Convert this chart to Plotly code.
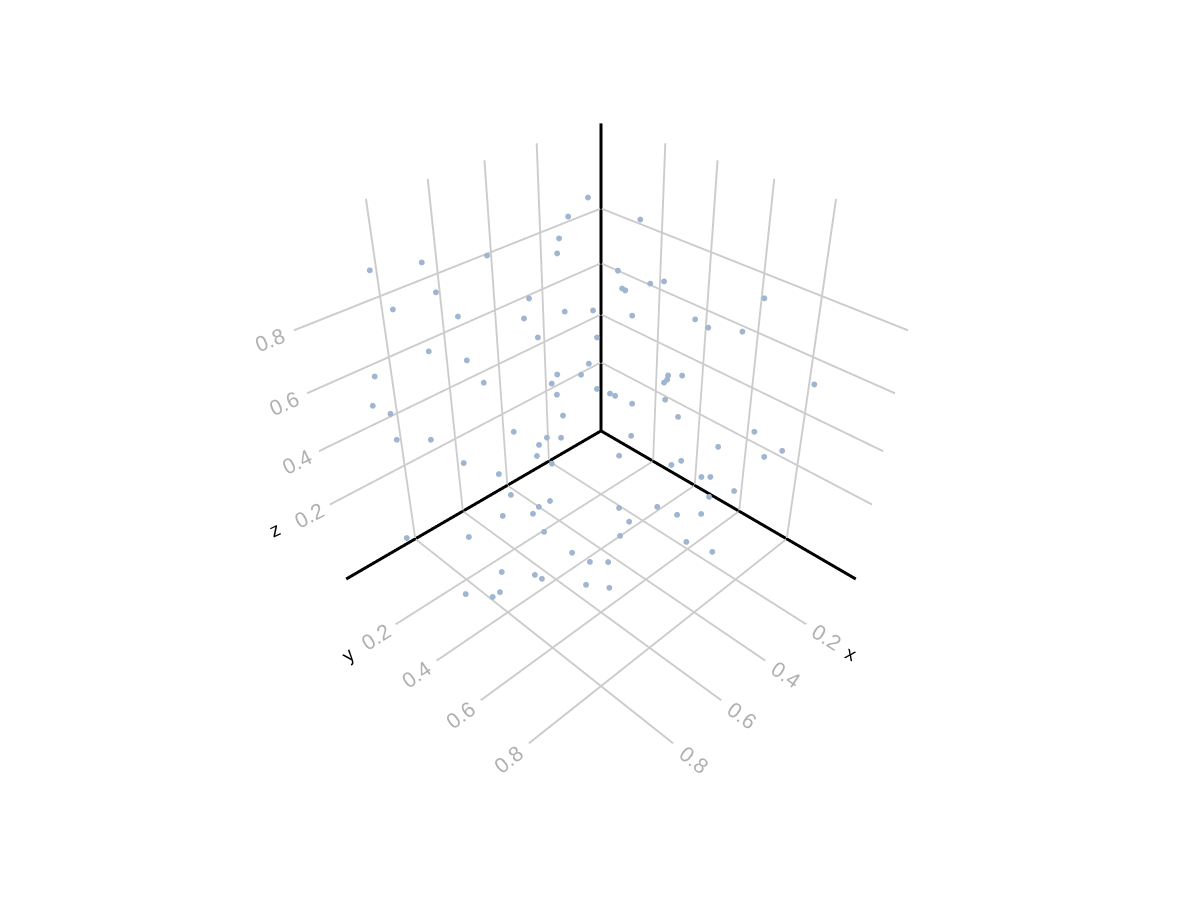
import plotly.graph_objects as go

x_vals = [0.159,0.267,0.133,0.344,0.381,0.585,0.768,0.908,0.264,0.261,0.246,0.294,0.295,0.786,0.547,0.196,0.904,0.464,0.375,0.770,0.333,0.595,0.290,0.294,0.274,0.585,0.405,0.854,0.788,0.469,0.509,0.582,0.398,
          0.382,0.405,0.410,0.948,0.760,0.610,0.120,0.477,0.464,0.463,0.607,0.457,0.407,0.958,0.932,0.594,0.385,0.706,0.241,0.633,0.600,0.457,0.928,0.869,0.652,0.659,0.174,0.310,0.532,0.213,
          0.813,0.656,0.375,0.405,0.744,0.339,0.320,0.270,0.353,0.761,0.726,0.749,0.805,0.767,0.632,0.525,0.482,0.408,0.629,0.784,0.677,0.945,0.875,0.500,0.436,0.786,0.781,0.751,0.890,0.859,0.857,0.819,0.787,0.957,0.919,0.933]
y_vals = [0.104,0.132,0.293,0.175,0.206,0.148,0.106,0.079,0.332,0.454,0.491,0.378,0.391,0.182,0.270,0.792,0.156,0.322,0.343,0.246,0.455,0.302,0.644,0.693,0.789,0.344,0.389,0.220,0.292,0.421,0.431,0.414,0.651,
          0.686,0.654,0.648,0.091,0.320,0.422,0.929,0.461,0.499,0.518,0.438,0.577,0.652,0.074,0.116,0.446,0.682,0.366,0.837,0.420,0.442,0.576,0.122,0.202,0.407,0.404,0.891,0.770,0.602,0.860,
          0.267,0.463,0.694,0.684,0.334,0.742,0.759,0.810,0.785,0.404,0.529,0.508,0.417,0.503,0.700,0.742,0.778,0.804,0.735,0.566,0.748,0.125,0.344,0.831,0.874,0.678,0.740,0.777,0.504,0.608,0.634,0.764,0.817,0.418,0.527,0.511]
z_vals = [0.956,0.937,0.936,0.907,0.883,0.926,0.954,0.971,0.832,0.834,0.849,0.803,0.802,0.901,0.826,0.891,0.886,0.773,0.750,0.848,0.761,0.795,0.807,0.803,0.822,0.749,0.693,0.767,0.742,0.648,0.634,0.660,0.681,
          0.689,0.672,0.662,0.673,0.672,0.647,0.652,0.586,0.582,0.583,0.617,0.582,0.607,0.574,0.555,0.545,0.554,0.506,0.509,0.476,0.470,0.472,0.467,0.478,0.454,0.417,0.436,0.458,0.456,0.419,
          0.401,0.420,0.403,0.399,0.360,0.351,0.350,0.299,0.311,0.334,0.365,0.345,0.291,0.328,0.386,0.351,0.318,0.292,0.357,0.312,0.345,0.111,0.210,0.263,0.212,0.310,0.315,0.319,0.192,0.231,0.233,0.275,0.279,0.093,0.151,0.131]
tick_vals = [0.2, 0.4, 0.6, 0.8]
lo = -0.07
hi = 1.07
zlo = -0.110
zhi = 1.088
edge_lo = -0.068
edge_hi = 1.068
edge_zlo = -0.108
edge_zhi = 1.086
axis_x = [edge_lo, edge_hi, None, edge_lo, edge_lo, None, edge_lo, edge_lo]
axis_y = [edge_lo, edge_lo, None, edge_lo, edge_hi, None, edge_lo, edge_lo]
axis_z = [edge_zlo, edge_zlo, None, edge_zlo, edge_zlo, None, edge_zlo, edge_zhi]

fig = go.Figure()
fig.add_trace(go.Scatter3d(x=axis_x, y=axis_y, z=axis_z, mode="lines",
    line=dict(color="black", width=6), hoverinfo="skip", showlegend=False))
fig.add_trace(go.Scatter3d(x=x_vals, y=y_vals, z=z_vals, mode="markers",
    marker=dict(size=3.4, color="#9fb5d0", line=dict(width=0)), showlegend=False))
ax = dict(range=[lo, hi], showbackground=False, gridcolor="#cccccc", gridwidth=4,
          showline=False, zeroline=False,
          tickvals=tick_vals, ticks="outside", ticklen=3, tickcolor="rgba(255,255,255,0)",
          tickfont=dict(color="#b0b0b0", size=16, family="Liberation Sans"),
          title=dict(text=""))
zax = dict(ax, range=[zlo, zhi], ticklen=9)
title_font = dict(family="Liberation Sans", size=19, color="black")
fig.update_layout(width=1200, height=900, paper_bgcolor="white",
    margin=dict(l=40, r=54, t=10, b=74),
    scene=dict(xaxis=ax, yaxis=ax, zaxis=zax, aspectmode="manual",
               aspectratio=dict(x=1, y=1, z=1.04),
               camera=dict(eye=dict(x=1.4, y=1.4, z=1.4)),
               annotations=[
                   dict(x=lo, y=hi, z=zlo, text="x", showarrow=False, textangle=25, xshift=-6, yshift=-74, font=title_font),
                   dict(x=hi, y=lo, z=zlo, text="y", showarrow=False, textangle=-40, xshift=3, yshift=-75, font=title_font),
                   dict(x=hi, y=lo, z=zlo, text="z", showarrow=False, textangle=-25, xshift=-70, yshift=50, font=title_font),
               ]))
fig.write_html("out.html")
